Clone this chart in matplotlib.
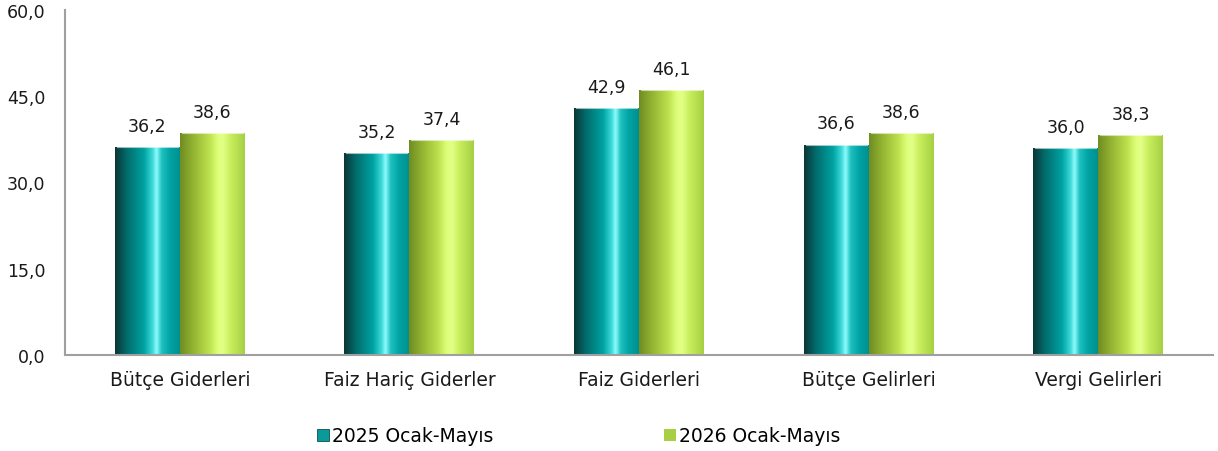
import numpy as np
import matplotlib
matplotlib.use("Agg")
import matplotlib.pyplot as plt
from matplotlib.colors import LinearSegmentedColormap
from matplotlib.patches import Patch

categories = ["Bütçe Giderleri", "Faiz Hariç Giderler", "Faiz Giderleri", "Bütçe Gelirleri", "Vergi Gelirleri"]
series_names = ["2025 Ocak-Mayıs", "2026 Ocak-Mayıs"]
values_2025 = [36.2, 35.2, 42.9, 36.6, 36.0]
values_2026 = [38.6, 37.4, 46.1, 38.6, 38.3]
yticks = [0, 15, 30, 45, 60]

plt.rcParams['font.family'] = ['DejaVu Sans']

teal_cmap = LinearSegmentedColormap.from_list("teal", [
    (0.0, "#0b3535"), (0.18, "#036b6b"), (0.45, "#00a3a3"), (0.58, "#3fd9d9"),
    (0.64, "#8ffcfc"), (0.72, "#1fc0c0"), (0.85, "#00a3a3"), (1.0, "#009090")])
green_cmap = LinearSegmentedColormap.from_list("green", [
    (0.0, "#6f8c22"), (0.2, "#93b332"), (0.45, "#bde04e"), (0.58, "#dcff78"),
    (0.66, "#e4ff88"), (0.78, "#c8ee5c"), (1.0, "#a6cf44")])

fig = plt.figure(figsize=(12.18, 4.52), dpi=100)
ax = fig.add_axes([65/1218, 1-356/452, (1213-65)/1218, 345/452])

x = np.arange(len(categories))
w = 0.283
grad = np.linspace(0, 1, 256).reshape(1, -1)

for vals, off, cmap in [(values_2025, -w/2, teal_cmap), (values_2026, w/2, green_cmap)]:
    bars = ax.bar(x + off, vals, w, color="none", edgecolor="none", zorder=2)
    for b, v in zip(bars, vals):
        x0, y0 = b.get_x(), b.get_y()
        bw, bh = b.get_width(), b.get_height()
        im = ax.imshow(grad, cmap=cmap, aspect="auto", extent=[x0, x0 + bw, y0, y0 + bh],
                       zorder=2, interpolation="bicubic")
        im.set_clip_path(b)
        ax.plot([x0 + bw*0.03, x0 + bw*0.97], [y0 + bh, y0 + bh], color="white", lw=0.8, alpha=0.6, zorder=3)
        ax.text(x0 + bw/2, v + 2.1, f"{v:.1f}".replace(".", ","), ha="center", va="bottom",
                fontsize=12.5, color="#1a1a1a", zorder=4)

ax.set_xlim(-0.5, len(categories) - 0.5)
ax.set_ylim(0, 60)
ax.set_yticks(yticks)
ax.set_yticklabels([f"{t:.1f}".replace(".", ",") for t in yticks], fontsize=12.5, color="#1a1a1a")
ax.set_xticks(x)
ax.set_xticklabels(categories, fontsize=13.5, color="#1a1a1a")
ax.tick_params(axis="both", length=0)
ax.tick_params(axis="y", pad=14)
ax.tick_params(axis="x", pad=11)
for s in ["top", "right"]:
    ax.spines[s].set_visible(False)
for s in ["left", "bottom"]:
    ax.spines[s].set_color("#a0a0a0")
    ax.spines[s].set_linewidth(1.5)

handles = [Patch(facecolor="#0a9a9a", edgecolor="#0a5050", linewidth=0.6),
           Patch(facecolor="#a6cf44", edgecolor="none")]
fig.legend(handles, series_names, loc="center", bbox_to_anchor=(0.4755, 1-437/452), ncol=2,
           frameon=False, fontsize=13.5, handlelength=0.6, handleheight=0.6,
           handletextpad=0.2, columnspacing=9.1)

fig.savefig("out.png", dpi=100)
